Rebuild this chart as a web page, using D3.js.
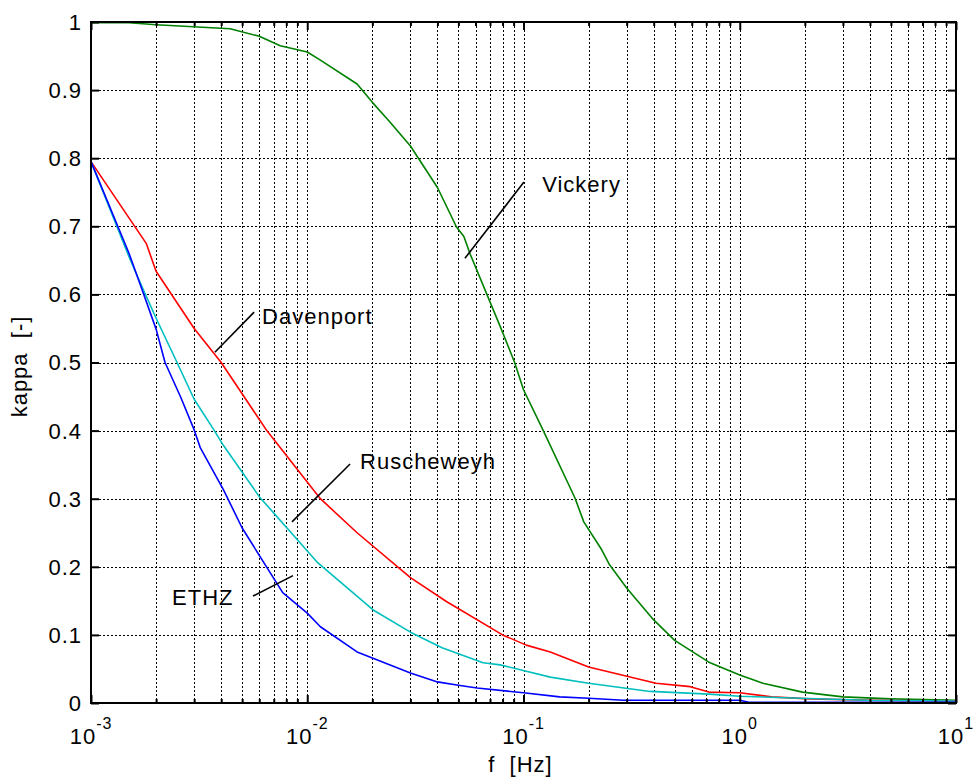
<!DOCTYPE html>
<html><head><meta charset="utf-8">
<script src="https://cdn.jsdelivr.net/npm/d3@7"></script>
<style>
body{margin:0;background:#fff;}
text{font-family:Arial,"Liberation Sans",sans-serif;fill:#000;white-space:pre;}
</style></head>
<body><svg id="chart" width="976" height="782"></svg>
<script>
// ---- data ----
const davenportF = [0.001,0.0018,0.002,0.003,0.004,0.0065,0.0115,0.017,0.03,0.044,0.08,0.103,0.133,0.2,0.41,0.59,0.72,1.0,1.4,2.1,4,10];
const davenportK = [0.795,0.675,0.634,0.55,0.50,0.40,0.30,0.25,0.184,0.149,0.10,0.085,0.075,0.053,0.029,0.024,0.016,0.015,0.009,0.006,0.004,0.003];

const ruschF = [0.001,0.0015,0.0017,0.002,0.0025,0.003,0.0037,0.0041,0.006,0.0111,0.0201,0.03,0.042,0.065,0.078,0.133,0.2,0.385,0.72,1.0,1.9,3.9,10];
const ruschK = [0.795,0.655,0.615,0.565,0.50,0.446,0.401,0.378,0.303,0.207,0.137,0.104,0.081,0.059,0.056,0.038,0.029,0.017,0.013,0.010,0.007,0.004,0.003];

const ethzF = [0.001,0.0015,0.0017,0.002,0.0022,0.0026,0.003,0.0032,0.0041,0.005,0.0077,0.01,0.0115,0.017,0.02,0.03,0.04,0.05,0.061,0.1,0.147,0.2,0.29,1.0,1.1,10];
const ethzK = [0.795,0.66,0.612,0.549,0.50,0.449,0.401,0.375,0.313,0.257,0.162,0.132,0.112,0.075,0.066,0.044,0.031,0.026,0.022,0.015,0.009,0.007,0.004,0.004,0.001,0.001];

const vickeryF = [0.001,0.0015,0.0018,0.002,0.0044,0.006,0.0075,0.01,0.0115,0.017,0.02,0.024,0.03,0.04,0.049,0.053,0.0567,0.078,0.091,0.1,0.123,0.173,0.19,0.23,0.25,0.30,0.40,0.50,0.72,1.0,1.28,1.95,3.0,5.0,10];
const vickeryK = [0.999,0.999,0.997,0.996,0.990,0.979,0.965,0.956,0.944,0.909,0.882,0.854,0.818,0.757,0.699,0.685,0.659,0.553,0.50,0.46,0.401,0.301,0.266,0.225,0.203,0.169,0.122,0.092,0.06,0.041,0.029,0.016,0.009,0.006,0.004];

const seriesNames = ["Davenport","Ruscheweyh","ETHZ","Vickery"];
const seriesColors = ["#ff0000","#00bfbf","#0000ff","#008000"];
const yTicks = [0,0.1,0.2,0.3,0.4,0.5,0.6,0.7,0.8,0.9,1];
const yTickLabels = ["0","0.1","0.2","0.3","0.4","0.5","0.6","0.7","0.8","0.9","1"];
const xDecades = [-3,-2,-1,0,1];
const xLabel = "f  [Hz]";
const yLabel = "kappa  [-]";
// annotation: label at (tf,tk), leader line from (l1f,l1k) to (l2f,l2k)
const annotations = [
  {text:"Vickery",    tf:0.122,  tk:0.750, l1f:0.1005, l1k:0.765, l2f:0.0536, l2k:0.653},
  {text:"Davenport",  tf:0.00618,tk:0.556, l1f:0.00568,l1k:0.574, l2f:0.00374,l2k:0.515},
  {text:"Ruscheweyh", tf:0.01754,tk:0.344, l1f:0.01578,l1k:0.351, l2f:0.0085, l2k:0.266},
  {text:"ETHZ",       tf:0.00237,tk:0.144, l1f:0.00561,l1k:0.157, l2f:0.00859,l2k:0.187}
];

// ---- layout ----
const m = {left:91, top:22, right:20, bottom:79};
const W = 976, H = 782;
const iw = W - m.left - m.right, ih = H - m.top - m.bottom;
const FS = 22, LS = "1px";
const svg = d3.select("#chart");
const g = svg.append("g").attr("transform",`translate(${m.left},${m.top})`);

const x = d3.scaleLog().domain([1e-3,10]).range([0,iw]);
const y = d3.scaleLinear().domain([0,1]).range([ih,0]);

// grid
const minorF = [];
for (let d=-3; d<1; d++) for (let k=1;k<10;k++) minorF.push(k*Math.pow(10,d));
minorF.push(10);
const gridV = minorF.filter(f=>f>1e-3*1.0001 && f<10*0.9999);
g.append("g").attr("shape-rendering","crispEdges").selectAll("line").data(gridV).join("line")
  .attr("x1",d=>Math.round(x(d))+0.5).attr("x2",d=>Math.round(x(d))+0.5).attr("y1",0).attr("y2",ih)
  .attr("stroke","#000").attr("stroke-width",1).attr("stroke-dasharray","2,2");
g.append("g").attr("shape-rendering","crispEdges").selectAll("line").data(yTicks.slice(1,-1)).join("line")
  .attr("x1",0).attr("x2",iw).attr("y1",d=>Math.round(y(d))+0.5).attr("y2",d=>Math.round(y(d))+0.5)
  .attr("stroke","#000").attr("stroke-width",1).attr("stroke-dasharray","2,2");

// curves
const line = d3.line().x(d=>x(d[0])).y(d=>y(d[1]));
const allSeries = [
  d3.zip(davenportF,davenportK),
  d3.zip(ruschF,ruschK),
  d3.zip(ethzF,ethzK),
  d3.zip(vickeryF,vickeryK)
];
[3,0,1,2].forEach(i=>{
  g.append("path").datum(allSeries[i]).attr("d",line)
   .attr("fill","none").attr("stroke",seriesColors[i]).attr("stroke-width",1.6)
   .attr("stroke-linejoin","round");
});

// axes (box with inward ticks)
const majorF = xDecades.map(d=>Math.pow(10,d));
const minorOnly = minorF.filter(f=>!majorF.some(M=>Math.abs(M-f)/f<1e-6));
const axBottom = d3.axisBottom(x).tickValues(majorF).tickSize(-8).tickFormat("");
const axTop = d3.axisTop(x).tickValues(majorF).tickSize(-8).tickFormat("");
const axBottomMinor = d3.axisBottom(x).tickValues(minorOnly).tickSize(-4).tickFormat("");
const axTopMinor = d3.axisTop(x).tickValues(minorOnly).tickSize(-4).tickFormat("");
const axLeft = d3.axisLeft(y).tickValues(yTicks).tickSize(-8).tickFormat("");
const axRight = d3.axisRight(y).tickValues(yTicks).tickSize(-8).tickFormat("");
function style(sel){ sel.select(".domain").remove(); sel.selectAll("line").attr("stroke","#000").attr("stroke-width",2); }
g.append("g").attr("transform",`translate(0,${ih})`).call(axBottom).call(style);
g.append("g").attr("transform",`translate(0,${ih})`).call(axBottomMinor).call(style);
g.append("g").call(axTop).call(style);
g.append("g").call(axTopMinor).call(style);
g.append("g").call(axLeft).call(style);
g.append("g").attr("transform",`translate(${iw},0)`).call(axRight).call(style);
g.append("rect").attr("x",0).attr("y",0).attr("width",iw).attr("height",ih)
  .attr("fill","none").attr("stroke","#000").attr("stroke-width",2);

// y tick labels
g.append("g").selectAll("text").data(yTicks).join("text")
  .attr("x",-9).attr("y",d=>y(d)).attr("dy","0.36em").attr("text-anchor","end")
  .attr("font-size",FS).attr("letter-spacing",LS).text((d,i)=>yTickLabels[i]);

// x tick labels 10^n
const xl = g.append("g").selectAll("text").data(xDecades).join("text")
  .attr("x",d=>x(Math.pow(10,d))).attr("y",ih+41).attr("text-anchor","middle")
  .attr("font-size",FS).attr("letter-spacing",LS);
xl.append("tspan").text("10");
xl.append("tspan").attr("dy",-15).attr("font-size",16).text(d=>String(d));

// axis titles
svg.append("text").attr("x",m.left+iw/2-3).attr("y",H-10).attr("text-anchor","middle")
  .attr("font-size",FS).attr("letter-spacing",LS).text(xLabel);
svg.append("text").attr("transform",`translate(27,${m.top+ih/2+4}) rotate(-90)`)
  .attr("text-anchor","middle").attr("font-size",FS).attr("letter-spacing",LS).text(yLabel);

// annotations
annotations.forEach(a=>{
  g.append("line").attr("x1",x(a.l1f)).attr("y1",y(a.l1k)).attr("x2",x(a.l2f)).attr("y2",y(a.l2k))
    .attr("stroke","#000").attr("stroke-width",1.6);
  g.append("text").attr("x",x(a.tf)).attr("y",y(a.tk)).attr("font-size",FS)
    .attr("letter-spacing",LS).text(a.text);
});
</script></body></html>
